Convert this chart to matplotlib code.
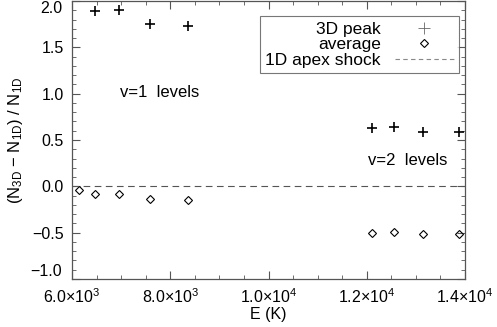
import matplotlib
matplotlib.use("Agg")
import matplotlib.pyplot as plt
from matplotlib.ticker import MultipleLocator, FuncFormatter

plt.rcParams['font.family'] = ['Liberation Sans', 'DejaVu Sans']
plt.rcParams['mathtext.fontset'] = 'custom'
plt.rcParams['mathtext.rm'] = 'Liberation Sans'
plt.rcParams['mathtext.it'] = 'Liberation Sans'

# 3D peak (plus) and average (diamond) values
peak_E = [6470, 6960, 7580, 8370, 12100, 12550, 13140, 13870]
peak_val = [1.89, 1.905, 1.75, 1.73, 0.633, 0.64, 0.586, 0.586]
avg_E = [6140, 6470, 6960, 7580, 8370, 12100, 12550, 13140, 13880]
avg_val = [-0.043, -0.086, -0.086, -0.133, -0.143, -0.50, -0.493, -0.518, -0.51]
x_ticks = [6000, 8000, 10000, 12000, 14000]
x_labels = ['6.0×10$^3$', '8.0×10$^3$', '1.0×10$^4$', '1.2×10$^4$', '1.4×10$^4$']

fig = plt.figure(figsize=(4.97, 3.27), dpi=100)
ax = fig.add_axes([72 / 497, 1 - 279 / 327, (465 - 72) / 497, 278 / 327])

ax.plot(peak_E, peak_val, ls='none', marker='+', ms=7.5, mew=1.2, color='black')
ax.plot(avg_E, avg_val, ls='none', marker='D', ms=4, mew=0.8,
        mfc='none', mec='black')
ax.axhline(0, color='#555555', lw=0.8, ls=(0, (6, 4)))

# legend entries (thin grey symbols as in the original)
h1, = ax.plot([], [], ls='none', marker='+', ms=8, mew=0.6, color='#666666')
h2, = ax.plot([], [], ls='none', marker='D', ms=4.5, mew=0.8, mfc='none', mec='black')
h3, = ax.plot([], [], color='#888888', lw=0.8, ls=(0, (4, 3)))
leg = ax.legend([h1, h2, h3], ['3D peak', 'average', '1D apex shock'],
                loc='upper right', bbox_to_anchor=(0.985, 0.945),
                markerfirst=False, frameon=True, fancybox=False,
                fontsize=12.5, handlelength=3.4, handletextpad=0.8,
                labelspacing=0.02, borderpad=0.3, borderaxespad=0)
leg.get_frame().set_edgecolor('#555555')
leg.get_frame().set_linewidth(0.8)
for t in leg.get_texts():
    t.set_ha('right')

ax.text(0.122, 0.655, 'v=1  levels', transform=ax.transAxes, fontsize=12)
ax.text(0.752, 0.41, 'v=2  levels', transform=ax.transAxes, fontsize=12)

ax.set_xlim(6000, 14000)
ax.set_ylim(-1.0, 2.0)
ax.set_xticks(x_ticks)
ax.set_xticklabels(x_labels)
ax.xaxis.set_minor_locator(MultipleLocator(500))
ax.yaxis.set_major_locator(MultipleLocator(0.5))
ax.yaxis.set_minor_locator(MultipleLocator(0.1))


def yfmt(v, p):
    # end labels are drawn by hand so they stay inside the figure
    if abs(v - 2.0) < 1e-6 or abs(v + 1.0) < 1e-6:
        return ''
    return f'{v:.1f}'.replace('-', '−')


ax.yaxis.set_major_formatter(FuncFormatter(yfmt))
ax.text(-0.025, 1.0, '2.0', transform=ax.transAxes, ha='right', va='top', fontsize=11.5)
ax.text(-0.025, 0.0, '−1.0', transform=ax.transAxes, ha='right', va='bottom', fontsize=11.5)

ax.tick_params(which='both', direction='in', top=True, right=True,
               color='#555555', labelsize=11.5)
ax.tick_params(which='major', length=6, width=0.8, pad=6)
ax.tick_params(which='minor', length=3, width=0.6)
for s in ax.spines.values():
    s.set_color('#555555')
    s.set_linewidth(0.9)

ax.set_xlabel('E (K)', fontsize=11.5, labelpad=1)
ax.set_ylabel('(N$_{3D}$ − N$_{1D}$) / N$_{1D}$', fontsize=12, labelpad=5)

fig.savefig('out.png', dpi=100)
